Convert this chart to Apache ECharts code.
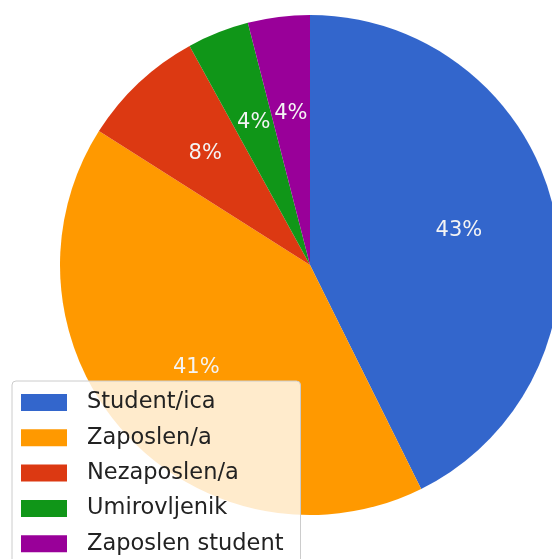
<!DOCTYPE html>
<html>
<head>
<meta charset="utf-8">
<script src="https://cdn.jsdelivr.net/npm/echarts@6/dist/echarts.min.js"></script>
<style>
  html, body { margin: 0; padding: 0; background: #fff; }
  #chart { width: 552px; height: 559px; }
</style>
</head>
<body>
<div id="chart"></div>
<script>
// kategorije i broj ispitanika
var categories = ['Student/ica', 'Zaposlen/a', 'Nezaposlen/a', 'Umirovljenik', 'Zaposlen student'];
var counts = [32, 31, 6, 3, 3];
var colors = ['#3366cc', '#ff9900', '#dc3912', '#109618', '#990099'];

var pieData = categories.map(function (name, i) {
  return { name: name, value: counts[i] };
});

var chart = echarts.init(document.getElementById('chart'));
chart.setOption({
  animation: false,
  color: colors,
  legend: {
    orient: 'vertical',
    left: 12,
    top: 381,
    height: 220,
    padding: [10, 17, 10, 9],
    backgroundColor: 'rgba(255,255,255,0.8)',
    borderColor: '#cccccc',
    borderWidth: 1,
    borderRadius: 4,
    itemWidth: 46,
    itemHeight: 17,
    itemGap: 12.3,
    icon: 'rect',
    textStyle: {
      fontFamily: 'DejaVu Sans',
      fontSize: 22.5,
      lineHeight: 22,
      color: '#222',
      padding: [0, 0, 0, 15]
    },
    data: categories
  },
  series: [
    {
      // sama pita
      type: 'pie',
      center: [310, 265],
      radius: [0, 250],
      startAngle: 90,
      clockwise: true,
      label: { show: false },
      labelLine: { show: false },
      emphasis: { disabled: true },
      data: pieData
    },
    {
      // prozirni sloj samo za postotke (na 0.6 radijusa)
      type: 'pie',
      center: [310, 265],
      radius: [0, 300],
      startAngle: 90,
      clockwise: true,
      silent: true,
      legendHoverLink: false,
      itemStyle: { color: 'rgba(0,0,0,0)' },
      label: {
        show: true,
        position: 'inside',
        formatter: function (p) { return Math.round(p.percent) + '%'; },
        fontFamily: 'DejaVu Sans',
        fontSize: 21,
        color: '#f4f4f4'
      },
      labelLine: { show: false },
      emphasis: { disabled: true },
      data: pieData
    }
  ]
});
</script>
</body>
</html>
